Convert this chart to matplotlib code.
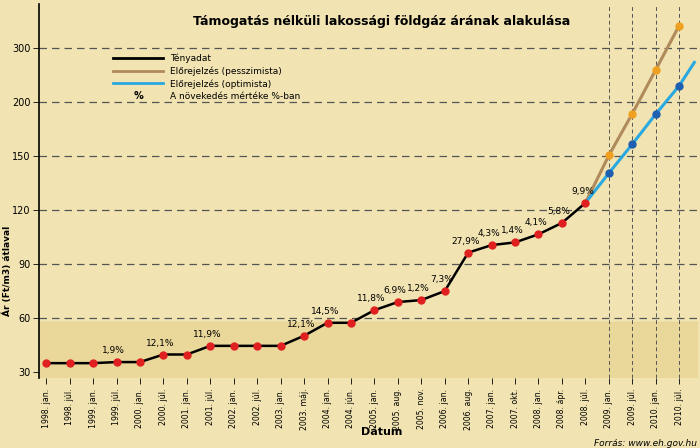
import numpy as np
import matplotlib
matplotlib.use("Agg")
import matplotlib.pyplot as plt
from matplotlib.lines import Line2D

dates = ["1998. jan.","1998. júl.","1999. jan.","1999. júl.","2000. jan.","2000. júl.",
         "2001. jan.","2001. júl.","2002. jan.","2002. júl.","2003. jan.","2003. máj.",
         "2004. jan.","2004. jún.","2005. jan.","2005. aug.","2005. nov.","2006. jan.",
         "2006. aug.","2007. jan.","2007. okt.","2008. jan.","2008. ápr.","2008. júl.",
         "2009. jan.","2009. júl.","2010. jan.","2010. júl."]
actual = [35, 35, 35, 35.6, 35.6, 39.8, 39.8, 44.6, 44.6, 44.6, 44.6, 50.2,
          57.4, 57.4, 64.4, 68.9, 70, 75, 96.3, 100.5, 102, 106.5, 112.8, 123.9]
pct = ["", "", "", "1,9%", "", "12,1%", "", "11,9%", "", "", "", "12,1%",
       "14,5%", "", "11,8%", "6,9%", "1,2%", "7,3%", "27,9%", "4,3%", "1,4%", "4,1%", "5,8%", "9,9%"]
pess = [150.4, 189, 259, 341]
opt = [140.4, 160.8, 188.6, 229.6]
opt_tail_pos, opt_tail_val = 27.65, 273
yticks = [30, 60, 90, 120, 150, 200, 300]

K = np.array(yticks, float)
idx = np.arange(len(K), dtype=float)
def fwd(v):
    v = np.asarray(v, float)
    r = np.interp(v, K, idx)
    r = np.where(v > 300, 6 + (v - 300) / 100, r)
    r = np.where(v < 30, (v - 30) / 30, r)
    return r
def inv(t):
    t = np.asarray(t, float)
    r = np.interp(t, idx, K)
    r = np.where(t > 6, 300 + (t - 6) * 100, r)
    r = np.where(t < 0, 30 + t * 30, r)
    return r

bg = "#f1e4b2"
fig = plt.figure(figsize=(7, 4.48), dpi=100, facecolor=bg)
ax = fig.add_axes([0.056, 0.156, 0.941, 0.834])
ax.set_facecolor(bg)
ax.set_yscale("function", functions=(fwd, inv))
ax.set_ylim(26.7, 380)
ax.set_xlim(-0.3, 27.8)
ax.axhspan(26.7, 58, color="#e6cf8a", alpha=0.6, zorder=0)

x = np.arange(len(dates))
na = len(actual)
fx = x[na:]
for v in yticks[1:]:
    ax.axhline(v, color="#555", lw=0.9, ls=(0, (6, 4)), zorder=1)
for xi in fx:
    ax.axvline(xi, color="#555", lw=0.7, ls=(0, (4, 3)), zorder=1)

ax.plot([x[na-1]] + list(fx), [actual[-1]] + pess, color="#b08a5a", lw=2.2, zorder=3)
ax.plot(fx, pess, "o", color="#f0a020", ms=5, zorder=4)
ax.plot([x[na-1]] + list(fx) + [opt_tail_pos], [actual[-1]] + opt + [opt_tail_val],
        color="#2aa8e0", lw=2.2, zorder=3)
ax.plot(fx, opt, "o", color="#1f5fb0", ms=5, zorder=4)
ax.plot(x[:na], actual, color="black", lw=1.8, zorder=3)
ax.plot(x[:na], actual, "o", color="#e02020", ms=5, zorder=4)
for xi, v, p in zip(x[:na], actual, pct):
    if p:
        ax.annotate(p, (xi, v), xytext=(-2, 5), textcoords="offset points",
                    ha="center", va="bottom", fontsize=6.5, zorder=5)

ax.set_yticks(yticks)
ax.set_yticklabels([str(v) for v in yticks], fontsize=7)
ax.yaxis.set_minor_locator(matplotlib.ticker.NullLocator())
ax.set_xticks(x)
ax.set_xticklabels(dates, rotation=90, fontsize=5.6)
ax.tick_params(axis="both", length=4, width=0.6)
ax.tick_params(axis="y", pad=2)
for s in ["top", "right"]:
    ax.spines[s].set_visible(False)
ax.spines["left"].set_linewidth(1.2)
ax.spines["bottom"].set_visible(False)
fig.text(0.011, 0.395, "Ár (Ft/m3) átlaval", rotation=90, ha="center", va="center",
         fontsize=6.5, fontweight="bold")
fig.text(0.545, 0.028, "Dátum", ha="center", fontsize=8, fontweight="bold")
fig.text(0.995, 0.004, "Forrás: www.eh.gov.hu", ha="right", fontsize=6.5, style="italic")
fig.text(0.545, 0.945, "Támogatás nélküli lakossági földgáz árának alakulása",
         ha="center", fontsize=9, fontweight="bold")

handles = [Line2D([], [], color="black", lw=2),
           Line2D([], [], color="#b08a5a", lw=2),
           Line2D([], [], color="#2aa8e0", lw=2),
           Line2D([], [], color="none")]
labels = ["Tényadat", "Előrejelzés (pesszimista)", "Előrejelzés (optimista)", "A növekedés mértéke %-ban"]
leg = ax.legend(handles, labels, loc="upper left", bbox_to_anchor=(0.1, 0.89), frameon=False,
                fontsize=6.5, handlelength=5.5, labelspacing=0.35)
fig.canvas.draw()
t4 = leg.get_texts()[3].get_window_extent()
h1 = leg.legend_handles[0].get_window_extent(fig.canvas.get_renderer())
W, H = fig.get_size_inches() * fig.dpi
fig.text(((h1.x0 + h1.x1) / 2) / W, ((t4.y0 + t4.y1) / 2) / H, "%", fontsize=7,
         fontweight="bold", ha="center", va="center")
fig.savefig("out.png", dpi=100, facecolor=bg)
